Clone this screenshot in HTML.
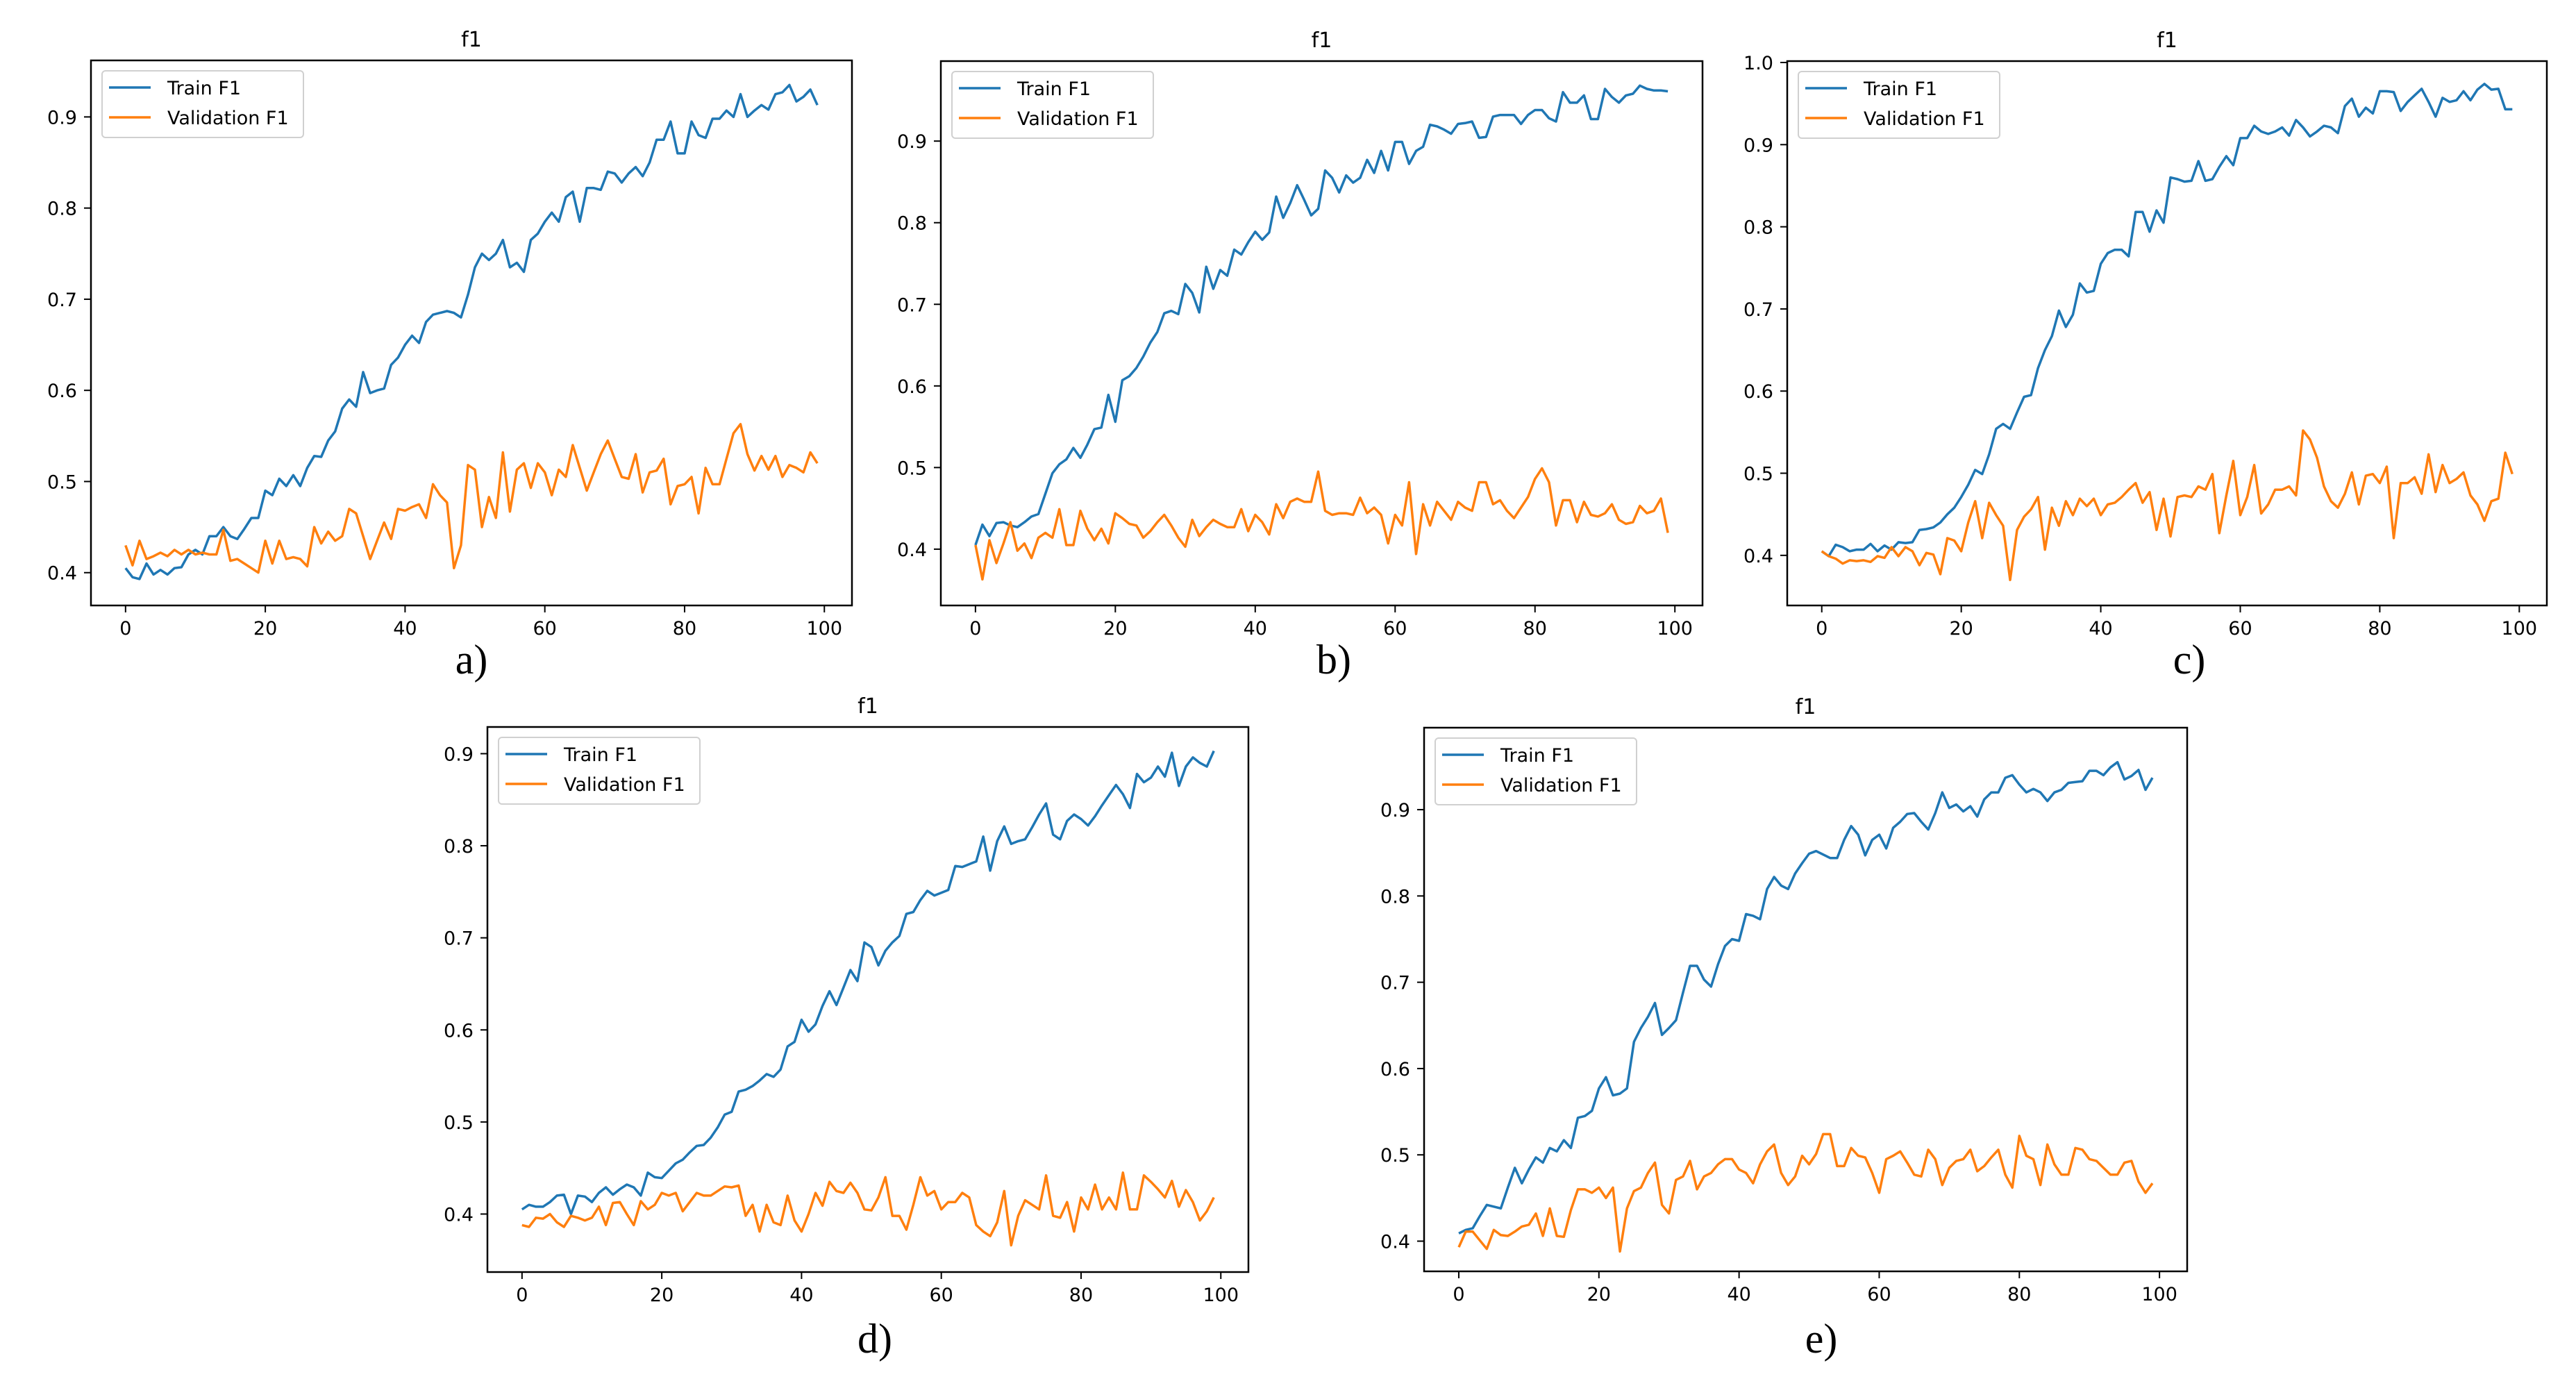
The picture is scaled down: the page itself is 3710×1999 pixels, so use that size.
<!DOCTYPE html>
<html><head><meta charset="utf-8"><style>
html,body{margin:0;padding:0;background:#fff;}
svg{display:block;}
text{font-family:"DejaVu Sans","Liberation Sans",sans-serif;fill:#000;}
.pl{font-family:"Liberation Serif",serif;}
</style></head><body>
<svg id="fig" width="3710" height="1999" viewBox="0 0 3710 1999" xmlns="http://www.w3.org/2000/svg"></svg>
<script>
// ---- data ----
const epochs = Array.from({length:100},(_, i)=>i);
const xTicks = [0,20,40,60,80,100];
const trainA = [0.405,0.395,0.393,0.41,0.398,0.403,0.398,0.405,0.406,0.42,0.425,0.42,0.44,0.44,0.45,0.44,0.437,0.448,0.46,0.46,0.49,0.485,0.503,0.495,0.507,0.495,0.515,0.528,0.527,0.545,0.555,0.58,0.59,0.582,0.62,0.597,0.6,0.602,0.628,0.636,0.65,0.66,0.652,0.675,0.683,0.685,0.687,0.685,0.68,0.705,0.735,0.75,0.743,0.75,0.765,0.735,0.74,0.73,0.765,0.772,0.785,0.795,0.785,0.812,0.818,0.785,0.822,0.822,0.82,0.84,0.838,0.828,0.838,0.845,0.835,0.85,0.875,0.875,0.895,0.86,0.86,0.895,0.88,0.877,0.898,0.898,0.907,0.9,0.925,0.9,0.907,0.913,0.908,0.925,0.927,0.935,0.917,0.922,0.93,0.913];
const valA = [0.43,0.408,0.435,0.415,0.418,0.422,0.418,0.425,0.42,0.425,0.42,0.422,0.42,0.42,0.447,0.413,0.415,0.41,0.405,0.4,0.435,0.41,0.435,0.415,0.417,0.415,0.407,0.45,0.432,0.445,0.435,0.44,0.47,0.465,0.44,0.415,0.435,0.455,0.437,0.47,0.468,0.472,0.475,0.46,0.497,0.485,0.477,0.405,0.43,0.518,0.513,0.45,0.483,0.46,0.532,0.467,0.513,0.52,0.493,0.52,0.51,0.485,0.513,0.505,0.54,0.515,0.49,0.51,0.53,0.545,0.525,0.505,0.503,0.53,0.488,0.51,0.512,0.525,0.475,0.495,0.497,0.505,0.465,0.515,0.497,0.497,0.525,0.553,0.563,0.53,0.512,0.528,0.513,0.528,0.505,0.518,0.515,0.51,0.532,0.52];
const trainB = [0.405,0.43,0.416,0.432,0.433,0.429,0.427,0.433,0.44,0.443,0.468,0.493,0.504,0.51,0.524,0.512,0.528,0.547,0.549,0.589,0.556,0.607,0.612,0.622,0.636,0.653,0.666,0.689,0.692,0.688,0.725,0.714,0.69,0.746,0.719,0.742,0.735,0.767,0.761,0.776,0.789,0.779,0.788,0.832,0.806,0.824,0.846,0.828,0.809,0.817,0.864,0.855,0.837,0.858,0.849,0.855,0.877,0.861,0.888,0.864,0.899,0.899,0.872,0.888,0.893,0.92,0.918,0.914,0.909,0.921,0.922,0.924,0.904,0.905,0.93,0.932,0.932,0.932,0.921,0.932,0.938,0.938,0.928,0.924,0.96,0.947,0.947,0.956,0.927,0.927,0.964,0.954,0.947,0.956,0.958,0.968,0.964,0.962,0.962,0.961];
const valB = [0.405,0.363,0.411,0.383,0.407,0.433,0.398,0.407,0.389,0.414,0.42,0.414,0.449,0.405,0.405,0.447,0.425,0.411,0.425,0.407,0.444,0.438,0.431,0.429,0.414,0.422,0.433,0.442,0.429,0.414,0.403,0.436,0.416,0.427,0.436,0.431,0.427,0.427,0.449,0.422,0.442,0.433,0.418,0.455,0.438,0.458,0.462,0.458,0.458,0.495,0.447,0.442,0.444,0.444,0.442,0.463,0.444,0.451,0.442,0.407,0.442,0.429,0.482,0.394,0.455,0.429,0.458,0.447,0.436,0.458,0.451,0.447,0.482,0.482,0.455,0.46,0.447,0.438,0.451,0.464,0.486,0.499,0.482,0.429,0.46,0.46,0.433,0.458,0.442,0.44,0.444,0.455,0.436,0.431,0.433,0.453,0.444,0.447,0.462,0.42];
const trainC = [0.405,0.399,0.413,0.41,0.405,0.407,0.407,0.414,0.405,0.412,0.407,0.416,0.415,0.416,0.431,0.432,0.434,0.44,0.45,0.458,0.471,0.486,0.504,0.499,0.523,0.554,0.56,0.554,0.574,0.593,0.595,0.628,0.65,0.667,0.698,0.678,0.693,0.731,0.72,0.722,0.755,0.768,0.772,0.772,0.764,0.818,0.818,0.794,0.82,0.805,0.86,0.858,0.855,0.856,0.88,0.856,0.858,0.873,0.886,0.875,0.908,0.908,0.923,0.916,0.913,0.916,0.921,0.911,0.93,0.921,0.91,0.916,0.923,0.921,0.914,0.947,0.956,0.934,0.945,0.938,0.965,0.965,0.964,0.941,0.952,0.96,0.968,0.952,0.934,0.957,0.952,0.954,0.965,0.954,0.967,0.974,0.967,0.968,0.943,0.943];
const valC = [0.405,0.399,0.396,0.39,0.394,0.393,0.394,0.392,0.399,0.397,0.41,0.399,0.41,0.405,0.388,0.403,0.401,0.377,0.421,0.418,0.405,0.44,0.466,0.421,0.464,0.449,0.436,0.37,0.431,0.447,0.456,0.471,0.407,0.458,0.436,0.466,0.449,0.469,0.46,0.469,0.449,0.462,0.464,0.471,0.48,0.488,0.464,0.477,0.431,0.469,0.423,0.471,0.473,0.471,0.484,0.48,0.499,0.427,0.473,0.515,0.449,0.471,0.51,0.451,0.462,0.48,0.48,0.484,0.473,0.552,0.541,0.519,0.484,0.466,0.458,0.475,0.501,0.462,0.497,0.499,0.488,0.508,0.421,0.488,0.488,0.495,0.475,0.523,0.477,0.51,0.488,0.493,0.501,0.473,0.462,0.442,0.466,0.469,0.525,0.499];
const trainD = [0.405,0.41,0.408,0.408,0.413,0.42,0.421,0.4,0.42,0.419,0.413,0.423,0.429,0.421,0.427,0.432,0.429,0.42,0.445,0.44,0.439,0.447,0.455,0.459,0.467,0.474,0.475,0.483,0.494,0.508,0.511,0.533,0.535,0.539,0.545,0.552,0.549,0.557,0.582,0.587,0.611,0.598,0.606,0.626,0.642,0.627,0.646,0.665,0.653,0.695,0.69,0.67,0.686,0.695,0.702,0.726,0.728,0.741,0.751,0.746,0.749,0.752,0.778,0.777,0.78,0.783,0.81,0.773,0.805,0.821,0.802,0.805,0.807,0.82,0.834,0.846,0.812,0.807,0.827,0.834,0.829,0.822,0.832,0.844,0.855,0.866,0.856,0.841,0.878,0.869,0.874,0.886,0.875,0.901,0.865,0.886,0.896,0.89,0.886,0.903];
const valD = [0.388,0.386,0.396,0.395,0.4,0.391,0.386,0.398,0.396,0.393,0.396,0.408,0.388,0.412,0.413,0.4,0.388,0.414,0.405,0.41,0.423,0.42,0.423,0.403,0.413,0.423,0.42,0.42,0.425,0.43,0.429,0.431,0.398,0.41,0.381,0.41,0.391,0.388,0.42,0.393,0.381,0.4,0.423,0.409,0.435,0.425,0.423,0.434,0.423,0.405,0.404,0.418,0.44,0.398,0.398,0.383,0.41,0.44,0.42,0.425,0.405,0.413,0.413,0.423,0.418,0.388,0.381,0.376,0.391,0.425,0.366,0.398,0.415,0.41,0.405,0.442,0.398,0.396,0.413,0.381,0.418,0.405,0.432,0.405,0.418,0.405,0.445,0.405,0.405,0.442,0.435,0.427,0.418,0.436,0.408,0.426,0.413,0.393,0.403,0.418];
const trainE = [0.409,0.413,0.415,0.429,0.442,0.44,0.438,0.462,0.485,0.467,0.483,0.497,0.491,0.508,0.504,0.517,0.508,0.543,0.545,0.551,0.577,0.59,0.569,0.571,0.577,0.631,0.647,0.66,0.676,0.639,0.647,0.656,0.688,0.719,0.719,0.703,0.695,0.721,0.742,0.75,0.748,0.779,0.777,0.773,0.808,0.822,0.812,0.808,0.826,0.838,0.849,0.852,0.848,0.844,0.844,0.865,0.881,0.871,0.847,0.865,0.871,0.855,0.879,0.886,0.895,0.896,0.886,0.877,0.896,0.92,0.902,0.906,0.898,0.904,0.892,0.912,0.92,0.92,0.937,0.94,0.929,0.92,0.924,0.92,0.91,0.92,0.923,0.931,0.932,0.933,0.945,0.945,0.94,0.949,0.955,0.935,0.939,0.946,0.923,0.937];
const valE = [0.393,0.411,0.411,0.401,0.391,0.413,0.407,0.406,0.411,0.417,0.419,0.432,0.406,0.438,0.406,0.405,0.436,0.46,0.46,0.456,0.462,0.45,0.462,0.388,0.438,0.458,0.462,0.479,0.491,0.442,0.432,0.471,0.475,0.493,0.46,0.475,0.479,0.489,0.495,0.495,0.483,0.479,0.467,0.489,0.504,0.512,0.479,0.465,0.475,0.499,0.489,0.501,0.524,0.524,0.487,0.487,0.508,0.499,0.497,0.479,0.456,0.495,0.499,0.504,0.491,0.477,0.475,0.506,0.495,0.465,0.485,0.493,0.495,0.506,0.481,0.487,0.497,0.506,0.477,0.462,0.522,0.499,0.495,0.465,0.512,0.489,0.477,0.477,0.508,0.506,0.495,0.493,0.485,0.477,0.477,0.491,0.493,0.469,0.456,0.467];
const yTicksA = [0.4,0.5,0.6,0.7,0.8,0.9];
const yTicksC = [0.4,0.5,0.6,0.7,0.8,0.9,1.0];
const panelLabels = ["a)","b)","c)","d)","e)"];

const NS = "http://www.w3.org/2000/svg";
const fig = document.getElementById('fig');
function mk(tag, attrs, parent){
  const e = document.createElementNS(NS, tag);
  for (const k in attrs) e.setAttribute(k, attrs[k]);
  (parent||fig).appendChild(e);
  return e;
}
const panels = [
  {id:'a', box:[131,87,1227,872], ylim:[0.364,0.962], yt:yTicksA, tr:trainA, va:valA, lab:[679,970]},
  {id:'b', box:[1355,88,2452,872], ylim:[0.331,0.998], yt:yTicksA, tr:trainB, va:valB, lab:[1921,970]},
  {id:'c', box:[2574,88,3668,872], ylim:[0.339,1.0017], yt:yTicksC, tr:trainC, va:valC, lab:[3153,970]},
  {id:'d', box:[702,1047,1798,1832], ylim:[0.337,0.929], yt:yTicksA, tr:trainD, va:valD, lab:[1260,1948]},
  {id:'e', box:[2051,1048,3150,1831], ylim:[0.365,0.995], yt:yTicksA, tr:trainE, va:valE, lab:[2623,1948]}
];
panels.forEach((p, pi)=>{
  const [L,T,R,B] = p.box;
  const g = mk('g', {});
  
  
  const xs = v => L + (v + 4.95) / 108.9 * (R - L);
  const ys = v => B - (v - p.ylim[0]) / (p.ylim[1] - p.ylim[0]) * (B - T);
  const title = mk('text', {x:(L+R)/2, y:T-20, 'font-size':30, 'text-anchor':'middle'}, g);
  title.textContent = 'f1';
  
  
  p.yt.forEach(t=>{
    const y = ys(t);
    mk('line', {x1:L-10, x2:L, y1:y, y2:y, stroke:'#000', 'stroke-width':2}, g);
    const tx = mk('text', {x:L-20, y:y+10, 'font-size':27, 'text-anchor':'end'}, g);
    tx.textContent = t.toFixed(1);
    
    
  });
  xTicks.forEach(t=>{
    const x = xs(t);
    mk('line', {x1:x, x2:x, y1:B, y2:B+10, stroke:'#000', 'stroke-width':2}, g);
    const tx = mk('text', {x:x, y:B+42, 'font-size':27, 'text-anchor':'middle'}, g);
    tx.textContent = String(t);
    
    
  });
  const pts = arr => arr.map((v,i)=> xs(epochs[i]).toFixed(1)+','+ys(v).toFixed(1)).join(' ');
  const lt = mk('polyline', {points:pts(p.tr), fill:'none', stroke:'#1f77b4', 'stroke-width':3.5, 'stroke-linejoin':'round'}, g);
  
  
  const lv = mk('polyline', {points:pts(p.va), fill:'none', stroke:'#ff7f0e', 'stroke-width':3.5, 'stroke-linejoin':'round'}, g);
  
  
  const frame = mk('rect', {x:L, y:T, width:R-L, height:B-T, fill:'none', stroke:'#000', 'stroke-width':2.5}, g);
  
  
  const lg = mk('g', {}, g);
  
  
  mk('rect', {x:L+16, y:T+15, width:290, height:96, rx:5, fill:'#fff', stroke:'#d0d0d0', 'stroke-width':2}, lg);
  [['Train F1','#1f77b4',T+39],['Validation F1','#ff7f0e',T+82]].forEach(([name,col,y])=>{
    mk('line', {x1:L+26, x2:L+86, y1:y, y2:y, stroke:col, 'stroke-width':3.5}, lg);
    const tx = mk('text', {x:L+110, y:y+10, 'font-size':27}, lg);
    tx.textContent = name;
    
    
  });
  const pl = mk('text', {x:p.lab[0], y:p.lab[1], 'font-size':60, 'text-anchor':'middle', class:'pl'}, g);
  pl.textContent = panelLabels[pi];
  
  
});
</script>
</body></html>
